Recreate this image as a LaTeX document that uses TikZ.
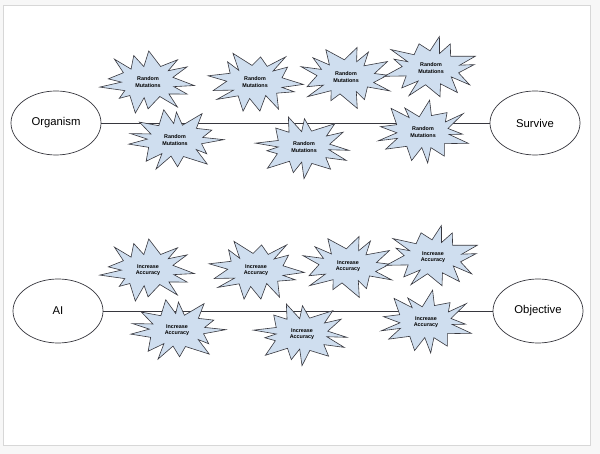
\documentclass[tikz,border=0pt]{standalone}
\usepackage{fontspec}
\setmainfont{Liberation Sans}
\usetikzlibrary{shapes.geometric}
\definecolor{starfill}{RGB}{207,222,239}
\definecolor{edgec}{RGB}{55,55,62}
\definecolor{pagebg}{RGB}{247,247,247}
\definecolor{framec}{RGB}{215,215,215}
\tikzset{
  burstline/.style={draw=edgec, fill=starfill, line width=0.6pt, line join=miter},
  bursttext/.style={align=center, inner sep=0pt, font=\bfseries\fontsize{5.4}{6.5}\selectfont},
  pics/burst/.style n args={2}{code={
    \foreach \k in {0,...,12}{
      \pgfmathsetmacro\myangO{\k*360/13 + 7*sin(\k*131+#1*71)}
      \pgfmathsetmacro\myfacO{0.80+0.24*abs(sin(\k*97+#1*53))}
      \pgfmathsetmacro\myangI{(\k+0.5)*360/13 + 5*sin(\k*113+#1*37)}
      \pgfmathsetmacro\myfacI{0.92+0.16*abs(sin(\k*59+#1*29))}
      \coordinate (o\k) at (\myangO:{47*\myfacO} and {31*\myfacO});
      \coordinate (i\k) at (\myangI:{27*\myfacI} and {16*\myfacI});
    }
    \filldraw[burstline] (o0) -- (i0) -- (o1) -- (i1) -- (o2) -- (i2) -- (o3) -- (i3)
      -- (o4) -- (i4) -- (o5) -- (i5) -- (o6) -- (i6) -- (o7) -- (i7) -- (o8) -- (i8)
      -- (o9) -- (i9) -- (o10) -- (i10) -- (o11) -- (i11) -- (o12) -- (i12) -- cycle;
    \node[bursttext] (t) at (0,0) {#2};
  }}
}
\begin{document}
\begin{tikzpicture}[x=1pt,y=-1pt,
  oval/.style={ellipse, draw=edgec, line width=0.7pt, minimum width=90pt, minimum height=64pt, inner sep=0pt, font=\fontsize{11.3}{13}\selectfont},
  link/.style={draw=edgec, line width=0.7pt}]
\fill[pagebg] (0,0) rectangle (600,454);
\useasboundingbox (0,0) rectangle (600,454);
\filldraw[fill=white, draw=framec, line width=0.8pt] (3,5) rectangle (590,445);

% top row
\node[oval] (org) at (56,123) {Organism};
\node[oval] (surv) at (535,123) {Survive};
\path[link] (org.east) -- (surv.west);
\pic (rm1) at (148,82) {burst={1}{Random\\Mutations}};
\pic (rm2) at (255,82) {burst={2}{Random\\Mutations}};
\pic (rm3) at (346,77) {burst={3}{Random\\Mutations}};
\pic (rm4) at (431,68) {burst={4}{Random\\Mutations}};
\pic (rm5) at (175,140) {burst={5}{Random\\Mutations}};
\pic (rm6) at (304,147) {burst={6}{Random\\Mutations}};
\pic (rm7) at (423,132) {burst={7}{Random\\Mutations}};

% bottom row
\node[oval] (ai) at (58,311) {AI};
\node[oval] (obj) at (538,311) {Objective};
\path[link] (ai.east) -- (obj.west);
\pic (ia1) at (148,270) {burst={1}{Increase\\Accuracy}};
\pic (ia2) at (256,270) {burst={2}{Increase\\Accuracy}};
\pic (ia3) at (348,266) {burst={3}{Increase\\Accuracy}};
\pic (ia4) at (433,257) {burst={4}{Increase\\Accuracy}};
\pic (ia5) at (177,330) {burst={5}{Increase\\Accuracy}};
\pic (ia6) at (302,334) {burst={6}{Increase\\Accuracy}};
\pic (ia7) at (426,322) {burst={7}{Increase\\Accuracy}};
\end{tikzpicture}
\end{document}
